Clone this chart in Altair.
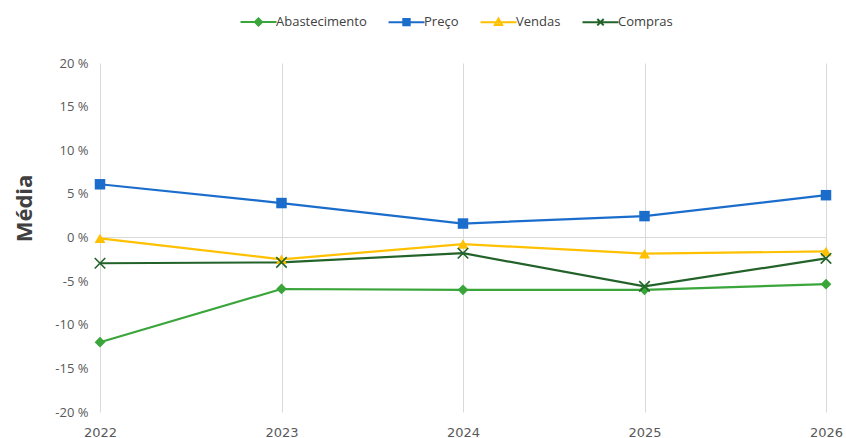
import altair as alt
import pandas as pd

years = [2022, 2023, 2024, 2025, 2026]
series = ["Abastecimento", "Preço", "Vendas", "Compras"]
abastecimento = [-12.0, -5.9, -6.0, -6.0, -5.35]
preco = [6.1, 3.95, 1.6, 2.45, 4.85]
vendas = [-0.1, -2.5, -0.75, -1.85, -1.6]
compras = [-2.95, -2.85, -1.8, -5.6, -2.4]
colors = ["#3aa53a", "#1b6dcc", "#ffc000", "#23632a"]
y_ticks = [-20, -15, -10, -5, 0, 5, 10, 15, 20]

values = {"Abastecimento": abastecimento, "Preço": preco, "Vendas": vendas, "Compras": compras}
rows = []
for s in series:
    for yr, v in zip(years, values[s]):
        rows.append({"year": yr, "series": s, "value": v})
df = pd.DataFrame(rows)

color_scale = alt.Scale(domain=series, range=colors)
X_PATH = "M-1,-1L1,1M1,-1L-1,1"
marker_shapes = {"Abastecimento": "diamond", "Preço": "square", "Vendas": "triangle-up", "Compras": X_PATH}
marker_sizes = {"Abastecimento": 115, "Preço": 110, "Vendas": 120, "Compras": 110}

# legend symbols: short line with a small (filled-looking) marker in the middle (unit = 4px)
leg_paths = [
    "M-1,0L8,0M2.6,0L3.5,-0.9L4.4,0L3.5,0.9ZM3.5,-0.5L3.5,0.5",
    "M-1,0L8,0M2.7,-0.8L4.3,-0.8L4.3,0.8L2.7,0.8ZM2.7,-0.4L4.3,-0.4M2.7,0.4L4.3,0.4",
    "M-1,0L8,0M2.6,0.7L3.5,-0.9L4.4,0.7ZM3.5,-0.4L3.5,0.7",
    "M-1,0L8,0M2.7,-0.8L4.3,0.8M4.3,-0.8L2.7,0.8",
]

base = alt.Chart(df)
x_enc = alt.X("year:Q", scale=alt.Scale(domain=[2022, 2026], nice=False, zero=False),
              axis=alt.Axis(values=years, format="d", grid=True, gridColor="#d9d9d9", gridWidth=1,
                            domain=False, ticks=False, labelPadding=14, labelFontSize=13,
                            labelFlush=False,
                            labelColor="#595959", labelFont="DejaVu Sans", title=None))
y_enc = alt.Y("value:Q", scale=alt.Scale(domain=[-20, 20], nice=False),
              axis=alt.Axis(values=y_ticks, grid=False, domain=False, ticks=False,
                            labelExpr="datum.value + ' %'", labelPadding=12, labelFontSize=13,
                            labelColor="#595959", labelFont="Open Sans",
                            title="Média", titleFontSize=22, titleFont="Open Sans", titleFontWeight="bold",
                            titleColor="#404040", titleAngle=-90, titleX=-64, titleY=145,
                            titleAlign="center", titleBaseline="bottom"))

zero = base.mark_rule(color="#d9d9d9", strokeWidth=1).encode(y=alt.datum(0))
lines = base.mark_line(strokeWidth=2.2).encode(
    x=x_enc, y=y_enc,
    color=alt.Color("series:N", scale=color_scale, legend=None),
    detail="series:N",
)
point_layers = []
for s in series:
    filled = s != "Compras"
    pl = base.transform_filter(alt.datum.series == s).mark_point(
        shape=marker_shapes[s], size=marker_sizes[s], filled=filled, opacity=1,
        strokeWidth=1.6,
    ).encode(x="year:Q", y="value:Q", color=alt.Color("series:N", scale=color_scale, legend=None))
    point_layers.append(pl)

leg_cfg = dict(
    orient="none", legendX=138, legendY=-48, direction="horizontal", columns=4,
    title=None, symbolOpacity=1, symbolStrokeWidth=2, symbolSize=64,
    labelOffset=25, columnPadding=17, labelFontSize=13, labelColor="#404040",
    labelFont="Open Sans")
legend_layer = base.mark_point(filled=False, opacity=0, strokeWidth=2, size=16).encode(
    x="year:Q", y="value:Q",
    color=alt.Color("series:N", scale=color_scale, legend=alt.Legend(**leg_cfg)),
    shape=alt.Shape("series:N", scale=alt.Scale(domain=series, range=leg_paths),
                    legend=alt.Legend(**leg_cfg)),
)

chart = alt.layer(zero, lines, *point_layers, legend_layer).resolve_legend(
    color="independent", shape="independent"
).properties(
    width=726, height=349,
    autosize=alt.AutoSizeParams(type="none"),
    padding={"left": 100, "top": 63, "right": 20, "bottom": 26},
    background="white",
).configure_view(stroke=None)

chart.save("out.html", embed_options={"renderer": "svg", "actions": False})
